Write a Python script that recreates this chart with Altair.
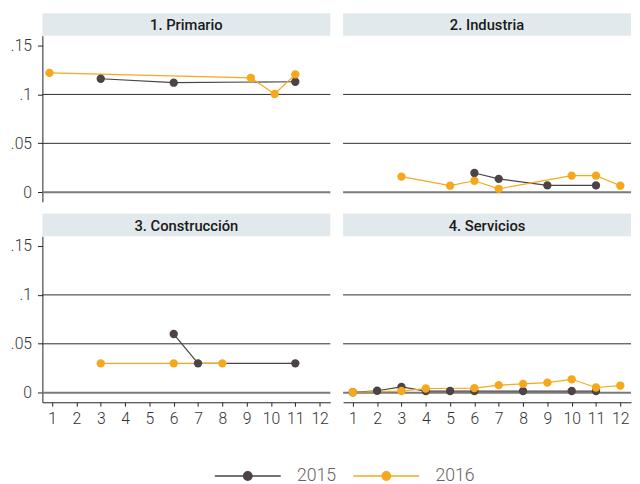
import altair as alt
import pandas as pd

panels = ["1. Primario", "2. Industria", "3. Construcción", "4. Servicios"]
years = ["2015", "2016"]
months = [1, 2, 3, 4, 5, 6, 7, 8, 9, 10, 11, 12]
y_ticks = [0, 0.05, 0.1, 0.15]
grid_vals = [0.05, 0.1]
zero_vals = [0]

prim_2015_x = [3, 6, 11]
prim_2015_y = [0.116, 0.112, 0.113]
prim_2016_x = [0.89, 9.17, 10.15, 11]
prim_2016_y = [0.122, 0.117, 0.1005, 0.1205]

ind_2015_x = [6, 7, 9, 11]
ind_2015_y = [0.0197, 0.0137, 0.007, 0.007]
ind_2016_x = [3, 5, 6, 7, 10, 11, 12]
ind_2016_y = [0.016, 0.0067, 0.0117, 0.0035, 0.017, 0.017, 0.0067]

con_2015_x = [6, 7, 11]
con_2015_y = [0.06, 0.03, 0.03]
con_2016_x = [3, 6, 8]
con_2016_y = [0.03, 0.03, 0.03]

ser_2015_x = [1, 2, 3, 4, 5, 6, 8, 10, 11]
ser_2015_y = [0.0005, 0.002, 0.006, 0.0017, 0.0017, 0.0017, 0.0017, 0.0017, 0.0017]
ser_2016_x = [1, 3, 4, 6, 7, 8, 9, 10, 11, 12]
ser_2016_y = [0.0005, 0.0017, 0.0043, 0.0047, 0.0077, 0.009, 0.0103, 0.0137, 0.0053, 0.0073]

series = [
    (panels[0], "2015", prim_2015_x, prim_2015_y),
    (panels[0], "2016", prim_2016_x, prim_2016_y),
    (panels[1], "2015", ind_2015_x, ind_2015_y),
    (panels[1], "2016", ind_2016_x, ind_2016_y),
    (panels[2], "2015", con_2015_x, con_2015_y),
    (panels[2], "2016", con_2016_x, con_2016_y),
    (panels[3], "2015", ser_2015_x, ser_2015_y),
    (panels[3], "2016", ser_2016_x, ser_2016_y),
]
rows = []
for p, yr, xs, ys in series:
    for xv, yv in zip(xs, ys):
        rows.append({"panel": p, "year": yr, "month": xv, "value": yv})
df = pd.DataFrame(rows)

COLORS = ["#4b4345", "#f6a81c"]
W, H, HDR = 293, 192, 23
Y_DOM = [-0.0098, 0.16]
X_DOM = [0.6, 12.44]
LFONT = "Roboto"

legend_path = "M-6.7,0H6.7M0.85,0A0.85,0.85,0,1,1,-0.85,0A0.85,0.85,0,1,1,0.85,0Z"
color = alt.Color(
    "year:N",
    scale=alt.Scale(domain=years, range=COLORS),
    legend=alt.Legend(
        title=None, orient="none", direction="horizontal",
        legendX=200, legendY=462, padding=0,
        symbolType=legend_path, symbolSize=100, symbolStrokeWidth=1.5,
        symbolOpacity=1,
        labelFont=LFONT, labelFontSize=18, labelFontWeight=300, labelColor="#6b6262",
        labelOffset=41, columnPadding=14,
    ),
)


def yscale():
    return alt.Scale(domain=Y_DOM, range=[H, HDR], nice=False, zero=False)


def panel(i, left, bottom):
    sub = df[df.panel == panels[i]]
    if bottom:
        x_axis = alt.Axis(values=months, tickSize=4, tickColor="#222", domainColor="#222",
                          labelFont=LFONT, labelFontSize=16, labelFontWeight=300, labelColor="#333",
                          labelPadding=5, grid=False, title=None)
    else:
        x_axis = None
    if left:
        y_axis = alt.Axis(values=y_ticks, tickSize=5, tickColor="#222", domainColor="#222",
                          labelFont=LFONT, labelFontSize=16, labelFontWeight=300, labelColor="#333",
                          labelPadding=6, grid=False, title=None, minExtent=35, maxExtent=35,
                          labelExpr="datum.value == 0 ? '0' : substring(format(datum.value, '.2~f'), 1)")
    else:
        y_axis = None
    x = alt.X("month:Q", scale=alt.Scale(domain=X_DOM, nice=False, zero=False), axis=x_axis, title=None)
    y = alt.Y("value:Q", scale=yscale(), axis=y_axis, title=None)

    grid = alt.Chart(pd.DataFrame({"value": grid_vals})).mark_rule(color="#2b2b2b", strokeWidth=1).encode(
        y=alt.Y("value:Q", scale=yscale(), axis=y_axis, title=None))
    zero = alt.Chart(pd.DataFrame({"value": zero_vals})).mark_rule(color="#7a7a7a", strokeWidth=2).encode(
        y=alt.Y("value:Q", scale=yscale(), axis=y_axis, title=None))
    hdr_df = pd.DataFrame({"t": [panels[i]]})
    hdr = alt.Chart(hdr_df).mark_rect(color="#e1e9ec").encode(
        x=alt.value(0), x2=alt.value(W), y=alt.value(0), y2=alt.value(HDR))
    txt = alt.Chart(hdr_df).mark_text(font="Roboto", fontSize=15, fontWeight=500, color="#1a1a1a").encode(
        x=alt.value(W / 2), y=alt.value(HDR / 2 + 1), text="t:N")
    base = alt.Chart(sub)
    line = base.mark_line(strokeWidth=1.2).encode(x=x, y=y, color=color)
    pts = base.mark_circle(size=72, opacity=1).encode(x=x, y=y, color=color)
    return alt.layer(hdr, txt, grid, zero, line, pts).properties(width=W, height=H)


top = alt.hconcat(panel(0, True, False), panel(1, False, False), spacing=11)
bot = alt.hconcat(panel(2, True, True), panel(3, False, True), spacing=11)
chart = alt.vconcat(top, bot, spacing=12).properties(
    padding={"left": 0, "top": 1, "right": 0, "bottom": 0}
).configure_view(stroke=None)

chart.save("out.html", embed_options={"renderer": "svg", "actions": False})
